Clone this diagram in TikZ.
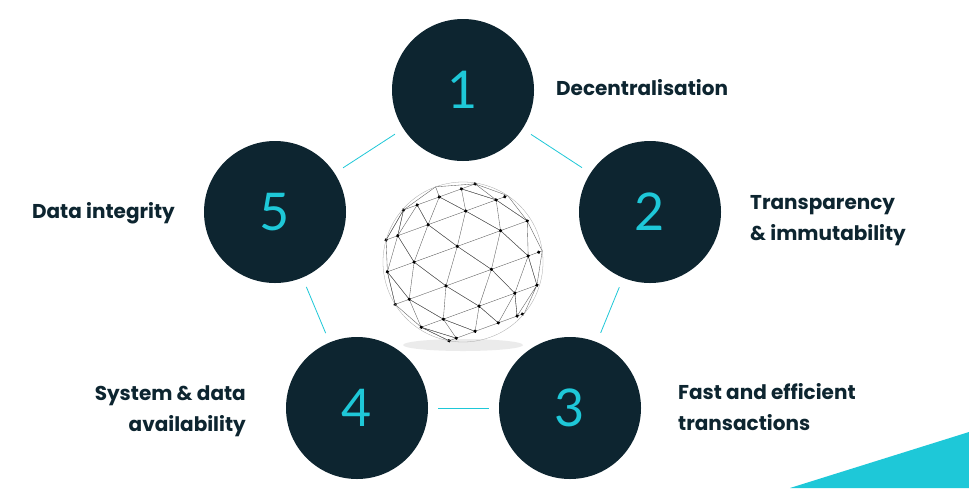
\documentclass[tikz,border=0pt]{standalone}
\usepackage{fontspec}
\setmainfont{Poppins}
\newfontfamily\numfont{Lato}
\definecolor{navy}{HTML}{0D2530}
\definecolor{teal}{HTML}{1EC8D8}
\tikzset{
  pillar/.style={circle,fill=navy,minimum size=142pt,inner sep=0pt,text=teal,font=\numfont\fontsize{52}{52}\selectfont},
  caption/.style={font=\fontsize{20}{31}\selectfont\bfseries,text=navy,align=left,inner sep=0pt},
  link/.style={teal,line width=0.8pt,shorten <=10pt,shorten >=10pt},
  mesh/.style={black!65,line width=0.35pt}
}
% point on the globe: latitude, longitude
\newcommand\gp[2]{({80*cos(#1)*sin(#2)},{-80*sin(#1)})}
\begin{document}
\begin{tikzpicture}[x=1pt,y=-1pt]
        \useasboundingbox[fill=white] (0,0) rectangle (969,488);
        \fill[teal] (969,432) -- (969,488) -- (790,488) -- cycle;

        % pillars
        \node[pillar] (one) at (463,90) {1};
        \node[pillar] (two) at (650,212) {2};
        \node[pillar] (three) at (570,408) {3};
        \node[pillar] (four) at (357,408) {4};
        \node[pillar] (five) at (275,212) {5};

        % captions
        \node[caption,anchor=west] (c1) at (556,88) {Decentralisation};
        \node[caption,anchor=west] (c2) at (750,221) {Transparency\\\& immutability};
        \node[caption,anchor=west] (c3) at (678,407) {Fast and efficient\\transactions};
        \node[caption,anchor=east,align=right] (c4) at (246,411) {System \& data\\availability};
        \node[caption,anchor=east] (c5) at (175,213) {Data integrity};

        % links
        \draw[link] (one) -- (two);
        \draw[link] (two) -- (three);
        \draw[link] (three) -- (four);
        \draw[link] (four) -- (five);
        \draw[link] (five) -- (one);

        % globe
        \node[circle,minimum size=170pt] (globe) at (463,262) {};
        \fill[black!15,opacity=0.5] (463,345) ellipse (60 and 6);
        \begin{scope}[shift={(globe.center)},rotate=20]
          \foreach \a/\o in {-60/0,-36/18,-12/0,12/18,36/0,60/18}
            \foreach \l in {-90,-54,-18,18,54} {
              \pgfmathsetmacro\la{\l+\o}
              \pgfmathsetmacro\lb{\l+\o+36}
              \pgfmathsetmacro\an{\a+24}
              \pgfmathsetmacro\lc{\l+\o+18}
              \pgfmathsetmacro\ld{\l+\o-18}
              \draw[mesh] \gp{\a}{\la} -- \gp{\a}{\lb};
              \ifdim\a pt<60pt
                \draw[mesh] \gp{\a}{\la} -- \gp{\an}{\lc} -- \gp{\a}{\lb};
                \draw[mesh] \gp{\a}{\la} -- \gp{\an}{\ld};
              \fi
              \fill \gp{\a}{\la} circle (1.8);
            }
          \fill \gp{-60}{108} circle (1.8) \gp{-12}{108} circle (1.8) \gp{36}{108} circle (1.8);
          \draw[mesh] \gp{60}{-72} -- (0,-80) -- \gp{60}{0} (0,-80) -- \gp{60}{72};
          \draw[black!35,line width=0.3pt] (0,0) circle (80);
        \end{scope}
\end{tikzpicture}
\end{document}
